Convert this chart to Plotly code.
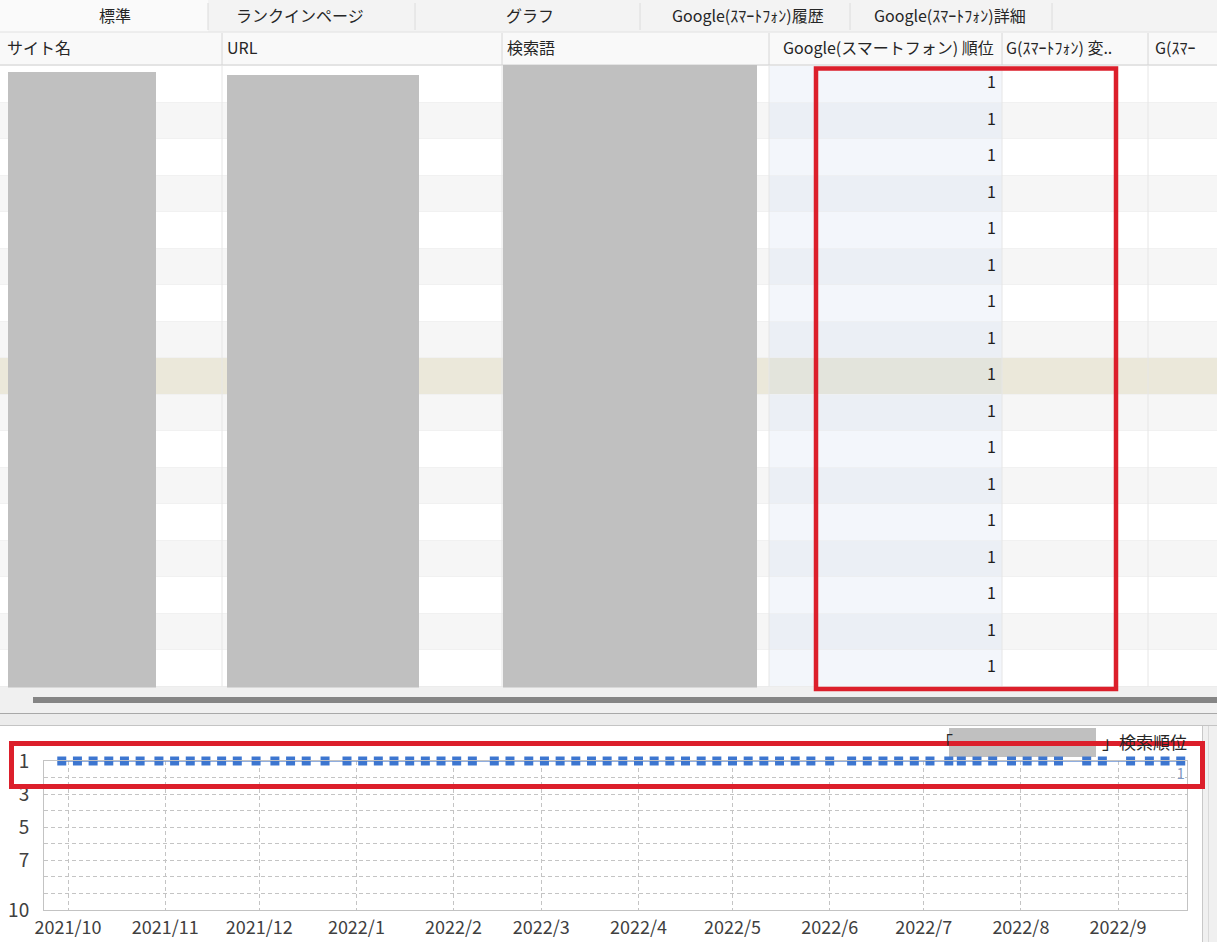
import plotly.graph_objects as go

# ---------------- data ----------------
tab_labels = ["標準", "ランクインページ", "グラフ", "Google(ｽﾏｰﾄﾌｫﾝ)履歴", "Google(ｽﾏｰﾄﾌｫﾝ)詳細"]
column_labels = ["サイト名", "URL", "検索語", "Google(スマートフォン) 順位", "G(ｽﾏｰﾄﾌｫﾝ) 変..", "G(ｽﾏｰ"]
table_ranks = [1, 1, 1, 1, 1, 1, 1, 1, 1, 1, 1, 1, 1, 1, 1, 1, 1]
selected_row = 8

rank_dates = ["2021-09-29", "2021-10-04", "2021-10-09", "2021-10-14", "2021-10-19", "2021-10-24",
              "2021-10-30", "2021-11-04", "2021-11-09", "2021-11-14", "2021-11-19", "2021-11-24",
              "2021-11-30", "2021-12-06", "2021-12-11", "2021-12-16", "2021-12-22", "2021-12-29",
              "2022-01-03", "2022-01-08", "2022-01-13", "2022-01-18", "2022-01-23", "2022-01-28",
              "2022-02-02", "2022-02-07", "2022-02-14", "2022-02-19", "2022-02-25", "2022-03-02",
              "2022-03-07", "2022-03-12", "2022-03-17", "2022-03-22", "2022-03-27", "2022-04-01",
              "2022-04-06", "2022-04-11", "2022-04-16", "2022-04-21", "2022-04-26", "2022-05-01",
              "2022-05-06", "2022-05-11", "2022-05-16", "2022-05-21", "2022-05-26", "2022-06-01",
              "2022-06-08", "2022-06-13", "2022-06-18", "2022-06-23", "2022-06-28", "2022-07-03",
              "2022-07-09", "2022-07-13", "2022-07-18", "2022-07-23", "2022-07-29", "2022-08-03",
              "2022-08-08", "2022-08-13", "2022-08-22", "2022-08-27", "2022-09-05", "2022-09-11",
              "2022-09-16", "2022-09-21"]
rank_values = [1, 1, 1, 1, 1, 1, 1, 1, 1, 1, 1, 1, 1, 1, 1, 1, 1, 1, 1, 1, 1, 1, 1, 1,
               1, 1, 1, 1, 1, 1, 1, 1, 1, 1, 1, 1, 1, 1, 1, 1, 1, 1, 1, 1, 1, 1, 1, 1,
               1, 1, 1, 1, 1, 1, 1, 1, 1, 1, 1, 1, 1, 1, 1, 1, 1, 1, 1, 1]
month_ticks = ["2021-10-01", "2021-11-01", "2021-12-01", "2022-01-01", "2022-02-01", "2022-03-01",
               "2022-04-01", "2022-05-01", "2022-06-01", "2022-07-01", "2022-08-01", "2022-09-01"]
month_labels = ["2021/10", "2021/11", "2021/12", "2022/1", "2022/2", "2022/3",
                "2022/4", "2022/5", "2022/6", "2022/7", "2022/8", "2022/9"]
rank_tickvals = [1, 2, 3, 4, 5, 6, 7, 8, 9, 10]
rank_ticktext = ["1", "", "3", "", "5", "", "7", "", "", "10"]
chart_title_suffix = "」検索順位"

# ---------------- layout constants (pixels) ----------------
W, H = 1217, 942
FONT = "Noto Sans CJK JP"
TXT = "#262626"
RED = "#dc1f2b"
REDACT = "#c0c0c0"

tab_centers = [115, 300, 530, 748, 950]
tab_seps = [208, 415, 640, 850, 1052]
col_x = [5, 225, 505, 996, 1004, 1153]
col_anchor = ["left", "left", "left", "right", "left", "left"]
col_seps = [222, 502, 769, 1002, 1148]
row_top, row_h = 66, 36.5
rank_col = (769, 1002)

# chart plot area
px_left, px_right, px_top, px_bottom = 44, 1187, 761, 910

fig = go.Figure()
shapes = []
annotations = []


def rect(x0, y0, x1, y1, fill, line=None, lw=0, layer="below"):
    shapes.append(dict(type="rect", xref="x", yref="y", x0=x0, y0=y0, x1=x1, y1=y1,
                       fillcolor=fill, line=dict(color=line or fill, width=lw), layer=layer))


def hline(x0, x1, y, color, w=1, layer="below"):
    shapes.append(dict(type="line", xref="x", yref="y", x0=x0, x1=x1, y0=y, y1=y,
                       line=dict(color=color, width=w), layer=layer))


def vline(x, y0, y1, color, w=1, layer="below"):
    shapes.append(dict(type="line", xref="x", yref="y", x0=x, x1=x, y0=y0, y1=y1,
                       line=dict(color=color, width=w), layer=layer))


# window background
rect(0, 0, W, H, "#f0f0f0")
# tab strip
rect(0, 0, W, 32, "#f3f3f3")
rect(0, 0, tab_seps[0], 32, "#fafafa")
for s in tab_seps:
    vline(s, 3, 30, "#dcdcdc")
# header row
rect(0, 32, W, row_top, "#f9f9f9")
hline(0, W, 32, "#e2e2e2")
hline(0, W, row_top - 1, "#cfcfcf")
for s in col_seps:
    vline(s, 33, row_top - 1, "#d6d6d6")

# table rows
n_rows = len(table_ranks)
for i in range(n_rows):
    y0 = row_top + i * row_h
    y1 = y0 + row_h
    if i == selected_row:
        base, tint = "#ebe8da", "#e3e4dc"
    elif i % 2 == 0:
        base, tint = "#ffffff", "#f3f6fb"
    else:
        base, tint = "#f6f6f6", "#ebeff5"
    rect(0, y0, W, y1, base)
    rect(rank_col[0], y0, rank_col[1], y1, tint)
    hline(0, W, y1, "#ececec")
table_bottom = row_top + n_rows * row_h
for s in col_seps:
    vline(s, row_top, table_bottom, "#e6e6e6")

# redaction boxes in the table
rect(8, 72, 156, 688, REDACT)
rect(227, 75, 419, 688, REDACT)
rect(503, 65, 757, 697, REDACT)

# scrollbar area / splitter
rect(0, table_bottom + 1, W, 713, "#f0f0f0")
rect(33, 697, W, 703, "#858585")
hline(0, W, 713.5, "#a8a8a8")
rect(0, 714, W, 725, "#ececec")
hline(0, W, 725.5, "#c4c4c4")
# chart panel
rect(0, 726, 1202, H, "#ffffff")
rect(1203, 726, W, H, "#f0f0f0")
vline(1202.5, 726, H, "#c8c8c8")
vline(1208.5, 726, H, "#dadada")

# chart title redaction
rect(949, 728, 1096, 757, REDACT)

# red highlight frames
shapes.append(dict(type="rect", xref="x", yref="y", x0=816, y0=68.5, x1=1116, y1=689,
                   line=dict(color=RED, width=4.5), layer="above"))
shapes.append(dict(type="rect", xref="x", yref="y", x0=11.5, y0=743.5, x1=1202.5, y1=786.5,
                   line=dict(color=RED, width=5), layer="above"))

# tab labels
for lbl, cx in zip(tab_labels, tab_centers):
    annotations.append(dict(x=cx, y=15, xref="x", yref="y", text=lbl, showarrow=False,
                            xanchor="center", yanchor="middle",
                            font=dict(family=FONT, size=16, color=TXT)))
# column headers
for lbl, cx, anc in zip(column_labels, col_x, col_anchor):
    annotations.append(dict(x=cx, y=47, xref="x", yref="y", text=lbl, showarrow=False,
                            xanchor=anc, yanchor="middle",
                            font=dict(family=FONT, size=16, color=TXT)))

# chart title
annotations.append(dict(x=934, y=741, xref="x", yref="y", text="「", showarrow=False,
                        xanchor="left", yanchor="middle", font=dict(family=FONT, size=17, color=TXT)))
annotations.append(dict(x=1189, y=741, xref="x", yref="y", text=chart_title_suffix, showarrow=False,
                        xanchor="right", yanchor="middle", font=dict(family=FONT, size=17, color=TXT)))

# table rank values (overlay pixel axes)
row_centers = [row_top + (i + 0.5) * row_h for i in range(n_rows)]
fig.add_trace(go.Scatter(
    x=[col_x[3]] * n_rows, y=row_centers, mode="text",
    text=[str(v) for v in table_ranks], textposition="middle left",
    textfont=dict(family=FONT, size=16, color="#1e1e1e"),
    hoverinfo="skip", showlegend=False, xaxis="x", yaxis="y"))

# ranking chart
point_labels = [""] * (len(rank_values) - 1) + [str(rank_values[-1])]
fig.add_trace(go.Scatter(
    x=rank_dates, y=rank_values, mode="lines+markers+text",
    line=dict(color="#6b93d6", width=1.3),
    marker=dict(symbol="square", size=9, color="#3d76d0"),
    text=point_labels, textposition="bottom center",
    textfont=dict(family=FONT, size=15, color="#8099c4"),
    cliponaxis=False, showlegend=False, xaxis="x2", yaxis="y2"))

fig.update_layout(
    template="none",
    width=W, height=H,
    margin=dict(l=0, r=0, t=0, b=0, pad=0, autoexpand=False),
    paper_bgcolor="#f0f0f0",
    plot_bgcolor="rgba(0,0,0,0)",
    showlegend=False,
    hovermode=False,
    shapes=shapes,
    annotations=annotations,
    xaxis=dict(domain=[0, 1], range=[0, W], visible=False, fixedrange=True, automargin=False),
    yaxis=dict(domain=[0, 1], range=[H, 0], visible=False, fixedrange=True, automargin=False),
    xaxis2=dict(
        domain=[px_left / W, px_right / W], anchor="y2", type="date",
        range=["2021-09-23 08:00", "2022-09-23"],
        tickmode="array", tickvals=month_ticks, ticktext=month_labels,
        showgrid=True, gridcolor="#c4c4c4", griddash="4px,3px", gridwidth=1,
        showline=True, linecolor="#c3c3c3", linewidth=1, mirror=True,
        ticks="", ticklabelstandoff=1, automargin=False,
        tickfont=dict(family=FONT, size=18, color="#404040"),
        zeroline=False, fixedrange=True),
    yaxis2=dict(
        domain=[1 - px_bottom / H, 1 - px_top / H], anchor="x2",
        range=[10, 1], tickmode="array", tickvals=rank_tickvals, ticktext=rank_ticktext,
        showgrid=True, gridcolor="#c4c4c4", griddash="4px,3px", gridwidth=1,
        showline=True, linecolor="#c3c3c3", linewidth=1, mirror=True,
        ticks="", ticklabelstandoff=10, automargin=False,
        tickfont=dict(family=FONT, size=19, color="#404040"),
        zeroline=False, fixedrange=True),
)

fig.write_html("out.html", config={"displayModeBar": False},
               post_script="document.body.style.margin='0';document.body.style.overflow='hidden';")
